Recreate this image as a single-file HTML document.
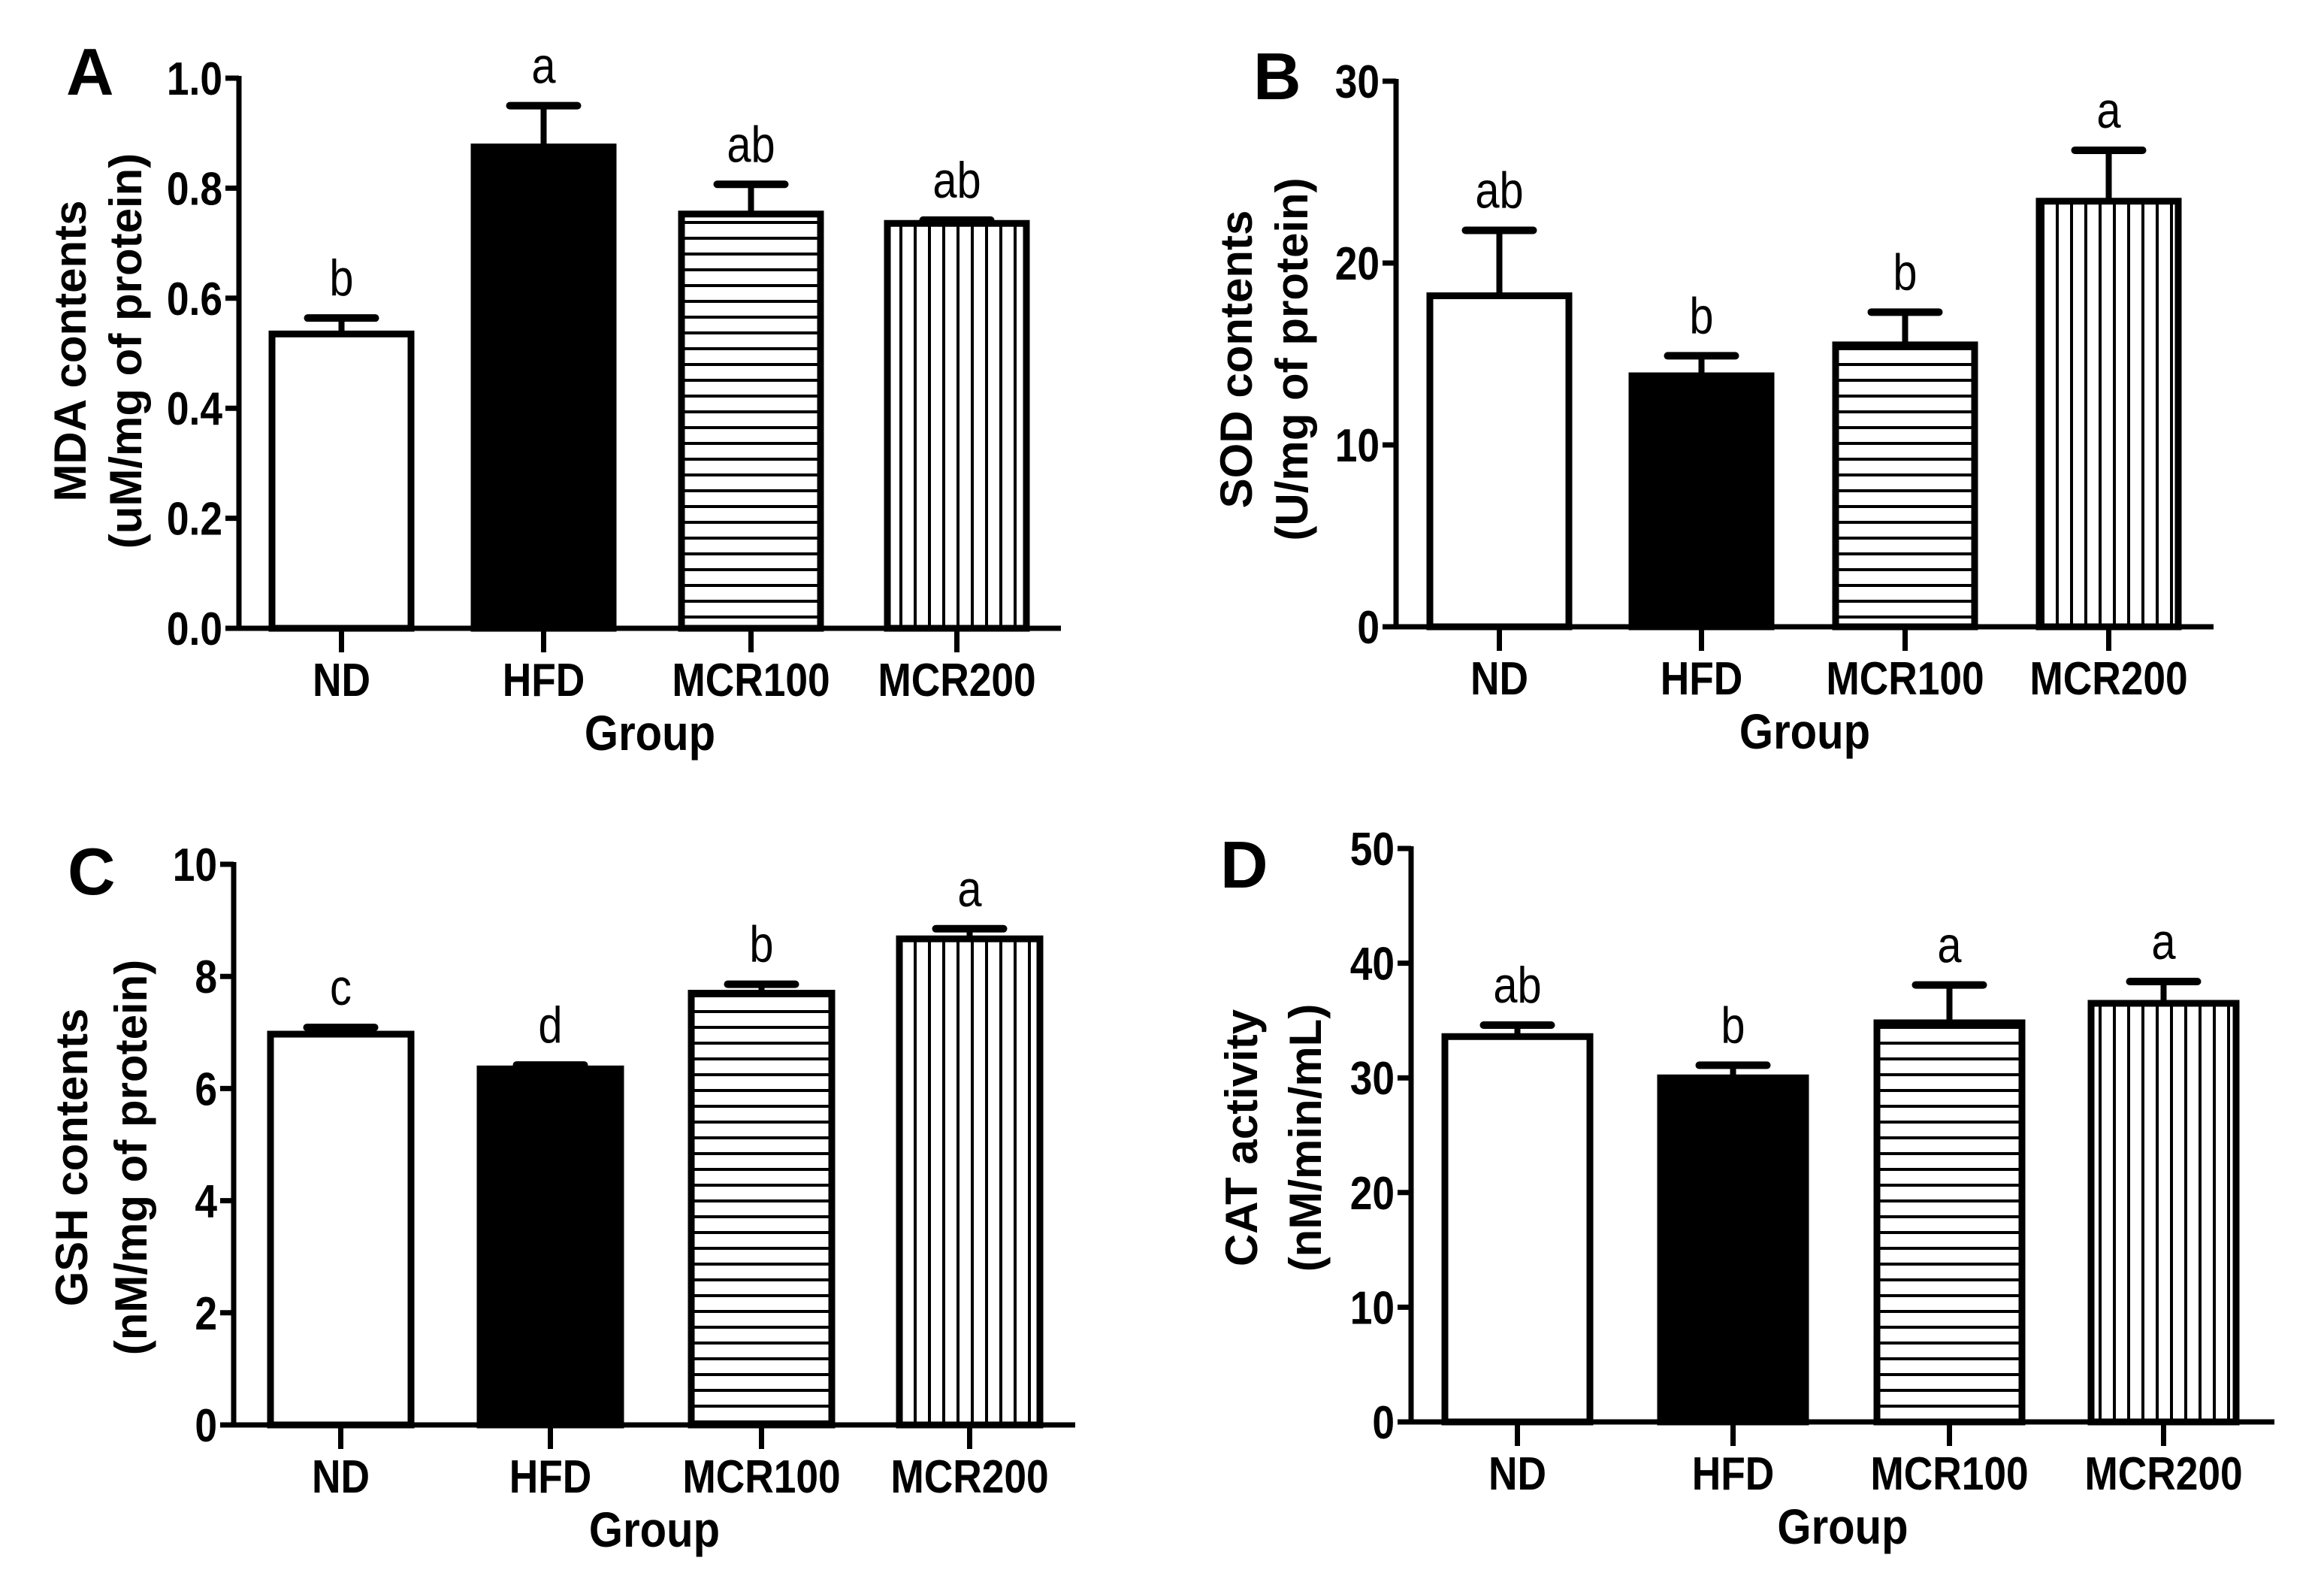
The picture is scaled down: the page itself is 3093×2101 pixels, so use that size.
<!DOCTYPE html>
<html><head><meta charset="utf-8"><style>
html,body{margin:0;padding:0;background:#fff;}
svg{display:block;}
text{font-family:"Liberation Sans",Arial,sans-serif;}
</style></head><body>
<svg id="fig" xmlns="http://www.w3.org/2000/svg" width="3093" height="2101" viewBox="0 0 3093 2101">
<defs>
<pattern id="hpat" patternUnits="userSpaceOnUse" width="20" height="21"><rect width="20" height="21" fill="#fff"/><rect y="0" width="20" height="4" fill="#000"/></pattern>
<pattern id="vpat" patternUnits="userSpaceOnUse" width="19" height="20"><rect width="19" height="20" fill="#fff"/><rect x="0" width="4" height="20" fill="#000"/></pattern>
</defs>
</svg>
<script>
const categories = ["ND","HFD","MCR100","MCR200"];
const mdaValues = [0.535, 0.875, 0.753, 0.736];
const mdaErrors = [0.029, 0.075, 0.054, 0.006];
const mdaLetters = ["b","a","ab","ab"];
const mdaTicks = [0, 0.2, 0.4, 0.6, 0.8, 1.0];
const sodValues = [18.2, 13.8, 15.5, 23.4];
const sodErrors = [3.6, 1.1, 1.8, 2.8];
const sodLetters = ["ab","b","b","a"];
const sodTicks = [0, 10, 20, 30];
const gshValues = [6.97, 6.35, 7.70, 8.67];
const gshErrors = [0.12, 0.07, 0.16, 0.18];
const gshLetters = ["c","d","b","a"];
const gshTicks = [0, 2, 4, 6, 8, 10];
const catValues = [33.6, 30.0, 34.8, 36.5];
const catErrors = [1.0, 1.1, 3.3, 1.9];
const catLetters = ["ab","b","a","a"];
const catTicks = [0, 10, 20, 30, 40, 50];

const NS = "http://www.w3.org/2000/svg";
const svg = document.getElementById("fig");
function mk(tag, attrs, parent){
  const e = document.createElementNS(NS, tag);
  for (const k in attrs) e.setAttribute(k, attrs[k]);
  (parent||svg).appendChild(e);
  return e;
}
function ctext(parent, x, y, str, size, bold, anchor, sx){
  const e = mk("text", {x: 0, y: 0, "font-size": size, "font-weight": bold ? "bold" : "normal", "text-anchor": anchor,
    transform: "translate(" + x + "," + y + ") scale(" + sx + ",1)"}, parent);
  e.textContent = str;
  return e;
}
const fills = ["#fff","#000","url(#hpat)","url(#vpat)"];

function panel(cfg){
  const g = mk("g", {});
  
  
  const yScale = v => cfg.y0 - (v / cfg.max) * (cfg.y0 - cfg.yTop);
  const L = mk("text", {x: cfg.letterX, y: cfg.letterY, "font-size": 88, "font-weight": "bold"}, g);
  L.textContent = cfg.letter;
  
  
  cfg.values.forEach((v, i) => {
    const x = cfg.barLefts[i], w = cfg.barW;
    const top = yScale(v);
    const et = yScale(v + cfg.errors[i]);
    const cx = x + w/2;
    const eb = mk("line", {x1: cx, x2: cx, y1: top, y2: et, stroke: "#000", "stroke-width": 8}, g);
    
    
    const cap = mk("line", {x1: cx - 45, x2: cx + 45, y1: et, y2: et, stroke: "#000", "stroke-width": 10, "stroke-linecap": "round"}, g);
    
    
    const r = mk("rect", {x: x, y: top, width: w, height: cfg.y0 - top, fill: fills[i], stroke: "#000", "stroke-width": 9}, g);
    
    
    const t = ctext(g, cx, et - 30, cfg.letters[i], 68, false, "middle", 0.85);
    
    
    const xt = mk("line", {x1: cx, x2: cx, y1: cfg.y0, y2: cfg.y0 + 32, stroke: "#000", "stroke-width": 7}, g);
    
    
    const xl = ctext(g, cx, cfg.y0 + 90, categories[i], 62, true, "middle", 0.86);
    
    
  });
  const ya = mk("line", {x1: cfg.ax, x2: cfg.ax, y1: cfg.yTop - 3, y2: cfg.y0 + 3, stroke: "#000", "stroke-width": 7}, g);
  
  
  const xa = mk("line", {x1: cfg.ax - 3, x2: cfg.axEnd, y1: cfg.y0, y2: cfg.y0, stroke: "#000", "stroke-width": 7}, g);
  
  
  cfg.ticks.forEach(tv => {
    const y = yScale(tv);
    const tk = mk("line", {x1: cfg.ax - 18, x2: cfg.ax, y1: y, y2: y, stroke: "#000", "stroke-width": 7}, g);
    
    
    const tl = ctext(g, cfg.ax - 22, y + 22, tv.toFixed(cfg.dec), 62, true, "end", 0.86);
    
    
  });
  const tg = mk("g", {transform: "translate(" + cfg.titleX1 + "," + cfg.titleY + ") rotate(-90)"}, g);
  const t1 = mk("text", {x: 0, y: 22, "font-size": 60, "font-weight": "bold", "text-anchor": "middle"}, tg);
  t1.textContent = cfg.title1;
  
  
  const t2 = mk("text", {x: 0, y: 22 + (cfg.titleX2 - cfg.titleX1), "font-size": 60, "font-weight": "bold", "text-anchor": "middle"}, tg);
  t2.textContent = cfg.title2;
  
  
  const gx = ctext(g, (cfg.ax + cfg.axEnd)/2, cfg.y0 + 162, "Group", 66, true, "middle", 0.88);
  
  
}

panel({name:"panel-a-mda", letter:"A", letterX:88, letterY:126, ax:318, axEnd:1412, y0:836, yTop:104, max:1.0, ticks:mdaTicks, dec:1,
  values:mdaValues, errors:mdaErrors, letters:mdaLetters, barLefts:[362,631,907,1181], barW:185,
  titleX1:92, titleX2:166, titleY:467, title1:"MDA contents", title2:"(uM/mg of protein)"});
panel({name:"panel-b-sod", letter:"B", letterX:1668, letterY:132, ax:1858, axEnd:2946, y0:834, yTop:108, max:30, ticks:sodTicks, dec:0,
  values:sodValues, errors:sodErrors, letters:sodLetters, barLefts:[1903,2172,2443,2714], barW:185,
  titleX1:1644, titleX2:1718, titleY:478, title1:"SOD contents", title2:"(U/mg of protein)"});
panel({name:"panel-c-gsh", letter:"C", letterX:90, letterY:1190, ax:311, axEnd:1431, y0:1896, yTop:1150, max:10, ticks:gshTicks, dec:0,
  values:gshValues, errors:gshErrors, letters:gshLetters, barLefts:[360,639,920,1197], barW:187,
  titleX1:94, titleX2:173, titleY:1540, title1:"GSH contents", title2:"(nM/mg of protein)"});
panel({name:"panel-d-cat", letter:"D", letterX:1624, letterY:1181, ax:1878, axEnd:3027, y0:1892, yTop:1129, max:50, ticks:catTicks, dec:0,
  values:catValues, errors:catErrors, letters:catLetters, barLefts:[1923,2210,2498,2783], barW:193,
  titleX1:1651, titleX2:1736, titleY:1514, title1:"CAT activity", title2:"(nM/min/mL)"});
</script>
</body></html>
